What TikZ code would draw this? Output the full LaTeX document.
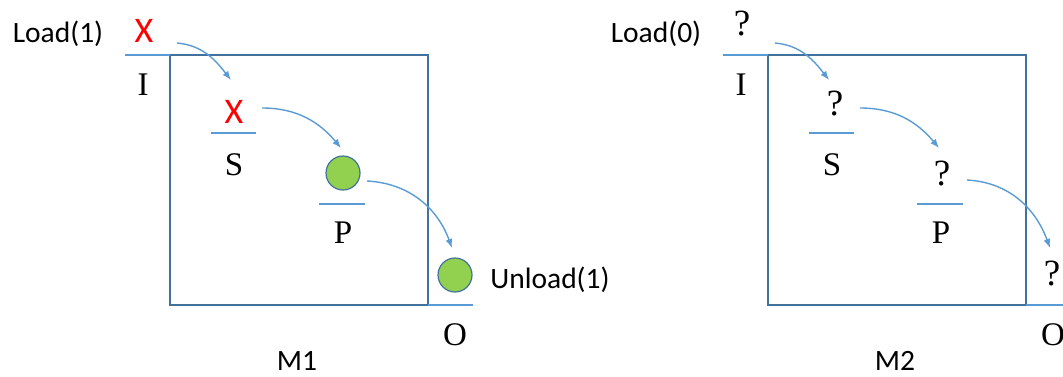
\documentclass[tikz,border=0pt]{standalone}
\usepackage{fontspec}
\usepackage{tikz}
\usetikzlibrary{arrows.meta}
\newfontfamily\calib{Carlito}
\newfontfamily\cambr{Liberation Serif}
\newcommand{\tagfont}{\calib\fontsize{29.5}{34}\selectfont}
\newcommand{\stagefont}{\cambr\fontsize{33}{38}\selectfont}
\newcommand{\unkfont}{\cambr\fontsize{37}{42}\selectfont}
\newcommand{\crossfont}{\calib\fontsize{36}{40}\selectfont}
\definecolor{boxblue}{HTML}{41719C}
\definecolor{lineblue}{HTML}{5B9BD5}
\definecolor{partgreen}{HTML}{92D050}
\tikzset{
  box/.style = {draw=boxblue, line width=1.5pt},
  ledge/.style = {draw=lineblue, line width=1.6pt},
  flow/.style = {draw=lineblue, line width=1.4pt,
    -{Latex[length=9pt,width=7pt]}},% fleche de transfert
  stage/.style = {anchor=base, inner sep=0pt, font=\stagefont},
  tag/.style = {anchor=base, inner sep=0pt, font=\tagfont},
  cross/.style = {anchor=base, inner sep=0pt, text=red, font=\crossfont},
  unk/.style = {anchor=base, inner sep=0pt, font=\unkfont},
  part/.style = {circle, draw=boxblue, fill=partgreen, line width=1.2pt,
    minimum size=34pt, inner sep=0pt}
}
\begin{document}
\begin{tikzpicture}[x=1pt, y=1pt]
  \useasboundingbox (0,0) rectangle (1063,-376);
  % les deux machines
  \foreach \dx/\m/\ld in {0/1/1, 598/2/0} {
    \draw[box] (\dx+170,-55) rectangle (\dx+428,-305);
    \draw[ledge] (\dx+125,-55) -- (\dx+170,-55);
    \draw[ledge] (\dx+211,-133) -- (\dx+256,-133);
    \draw[ledge] (\dx+319,-204) -- (\dx+365,-204);
    \draw[ledge] (\dx+428,-305) -- (\dx+473,-305);
    \node[stage] (I\m) at (\dx+143,-95) {I};
    \node[stage] (S\m) at (\dx+234,-175) {S};
    \node[stage] (P\m) at (\dx+343,-243) {P};
    \node[stage] (O\m) at (\dx+455,-345) {O};
    \node[tag] (M\m) at (\dx+297,-370) {M\m};
    \node[tag] (load\m) at (\dx+58,-42) {Load(\ld)};
  }
  % M1
  \node[cross] (xI) at (144,-42) {X};
  \node[cross] (xS) at (234,-123) {X};
  \node[part] (cP) at (343,-173) {};
  \node[part] (cO) at (455,-275) {};
  \node[tag] (unload) at (550,-288) {Unload(1)};
  \draw[flow] ([shift={(33,-1)}]xI.base) to[out=-5, in=128] ([shift={(-3,43)}]xS.base);
  \draw[flow] ([shift={(28,15)}]xS.base) to[out=0, in=130] ([shift={(-2,25)}]cP.center);
  \draw[flow] ([shift={(24,-8)}]cP.center) to[out=-3, in=110] ([shift={(-3,27)}]cO.center);
  % M2
  \node[unk] (qI) at (742,-35) {?};
  \node[unk] (qS) at (835,-115) {?};
  \node[unk] (qP) at (942,-185) {?};
  \node[unk] (qO) at (1052,-285) {?};
  \draw[flow] ([shift={(33,-8)}]qI.base) to[out=-5, in=128] ([shift={(-6,35)}]qS.base);
  \draw[flow] ([shift={(25,7)}]qS.base) to[out=0, in=130] ([shift={(-3,37)}]qP.base);
  \draw[flow] ([shift={(25,5)}]qP.base) to[out=-3, in=110] ([shift={(-2,37)}]qO.base);
\end{tikzpicture}
\end{document}
